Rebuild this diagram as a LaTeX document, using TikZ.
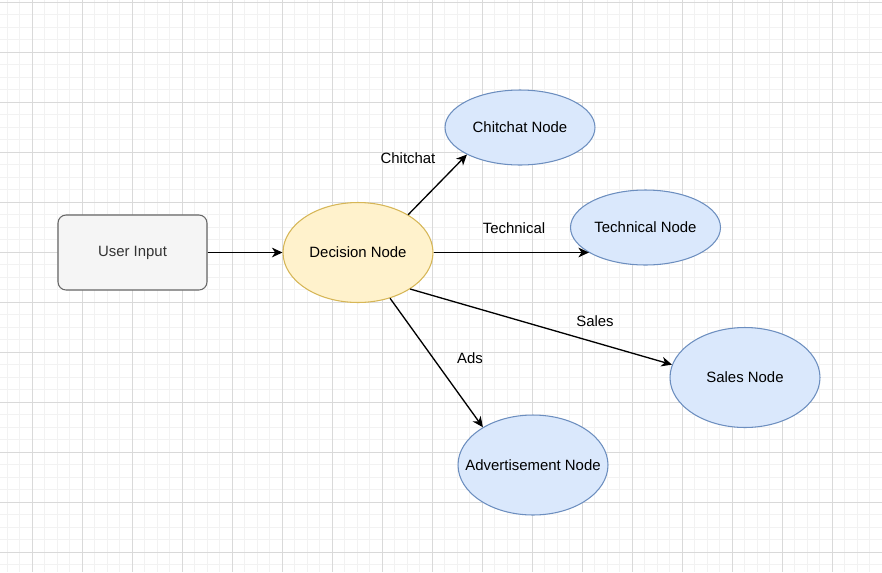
\documentclass[tikz,border=0pt]{standalone}
\usepackage{fontspec}
\setmainfont{Liberation Sans}
\usetikzlibrary{shapes.geometric, arrows.meta}

\definecolor{inputfill}{HTML}{F5F5F5}
\definecolor{inputline}{HTML}{666666}
\definecolor{inputtext}{HTML}{333333}
\definecolor{decfill}{HTML}{FFF2CC}
\definecolor{decline}{HTML}{D6B656}
\definecolor{leaffill}{HTML}{DAE8FC}
\definecolor{leafline}{HTML}{6C8EBF}

\begin{document}
\begin{tikzpicture}[
    x=0.02cm, y=-0.02cm,
    every node/.style={font=\fontsize{8.5}{10}\selectfont},
    minorgrid/.style={gray!10, line width=0.5pt},
    majorgrid/.style={gray!30, line width=0.5pt},
    inputbox/.style={rectangle, rounded corners=0.16cm, draw=inputline, fill=inputfill, text=inputtext, line width=0.6pt, minimum width=2.98cm, minimum height=1.5cm, inner sep=0pt},
    decnode/.style={ellipse, draw=decline, fill=decfill, line width=0.6pt, minimum width=3cm, minimum height=2cm, inner sep=0pt},
    leafnode/.style={ellipse, draw=leafline, fill=leaffill, line width=0.6pt, minimum width=3cm, minimum height=1.5cm, inner xsep=-0.6cm, inner ysep=0pt},
    bigleaf/.style={leafnode, minimum height=2cm},
    arrow/.style={-{Stealth[length=6pt, width=5.5pt, inset=1.8pt]}, line width=0.75pt},
    edgelabel/.style={inner sep=1pt}
]
    \useasboundingbox (0,0) rectangle (882,572);
    \fill[white] (0,0) rectangle (882,572);
    % grid
    \foreach \i in {-2,...,68}
        \draw[minorgrid] ({32+12.5*\i},0) -- ({32+12.5*\i},572);
    \foreach \j in {0,...,45}
        \draw[minorgrid] (0,{2+12.5*\j}) -- (882,{2+12.5*\j});
    \foreach \i in {0,...,17}
        \draw[majorgrid] ({32+50*\i},0) -- ({32+50*\i},572);
    \foreach \j in {0,...,11}
        \draw[majorgrid] (0,{2+50*\j}) -- (882,{2+50*\j});

    \node[inputbox] (input) at (132.5, 252.5) {User Input};
    \node[decnode] (decision) at (358, 252.5) {Decision Node};
    \node[leafnode] (chitchat) at (520, 127.5) {Chitchat Node};
    \node[leafnode] (technical) at (645.5, 227.5) {Technical Node};
    \node[bigleaf] (sales) at (745, 377.5) {Sales Node};
    \node[bigleaf] (ads) at (533, 465) {Advertisement Node};

    \draw[arrow] (input) -- (decision);
    \draw[arrow] (decision.37) -- (chitchat.207);
    \draw[arrow] (decision.east) -- (decision.east -| technical.204);
    \draw[arrow] (decision.325) -- (sales.170);
    \draw[arrow] (decision.305) -- (ads.143);

    \node[edgelabel] (lchitchat) at (408, 158) {Chitchat};
    \node[edgelabel] (ltechnical) at (514, 228) {Technical};
    \node[edgelabel] (lsales) at (595, 321) {Sales};
    \node[edgelabel] (lads) at (470, 358) {Ads};
\end{tikzpicture}
\end{document}
